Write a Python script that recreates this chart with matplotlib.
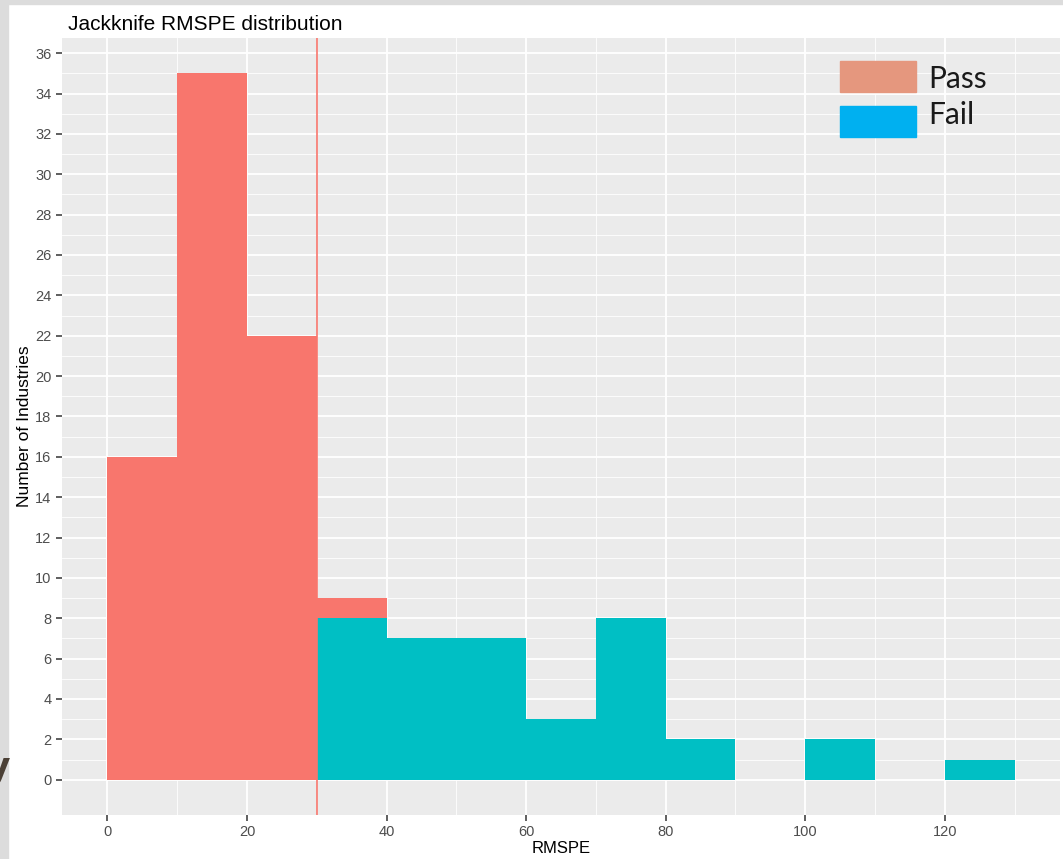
import matplotlib
matplotlib.use("Agg")
import matplotlib.pyplot as plt
from matplotlib.patches import Rectangle
import numpy as np

# Data
bin_edges = [0, 10, 20, 30, 40, 50, 60, 70, 80, 90, 100, 110, 120, 130]
fail_counts = [0, 0, 0, 8, 7, 7, 3, 8, 2, 0, 2, 0, 1]
pass_counts = [16, 35, 22, 1, 0, 0, 0, 0, 0, 0, 0, 0, 0]
threshold = 30
x_ticks = [0, 20, 40, 60, 80, 100, 120]
y_ticks = list(range(0, 37, 2))
legend_labels = ["Pass", "Fail"]

PASS_C = "#F8766D"
FAIL_C = "#00BFC4"

fig = plt.figure(figsize=(10.63, 8.59), dpi=100, facecolor="white")
W, H = 1063, 859

# slide border strips
fig.patches.append(Rectangle((0, 0), 8 / W, 1, transform=fig.transFigure, color="#dcdcdc", zorder=0))
fig.patches.append(Rectangle((0, 1 - 4 / H), 1, 4 / H, transform=fig.transFigure, color="#dcdcdc", zorder=0))

ax = fig.add_axes([62 / W, 1 - 815 / H, (1060 - 62) / W, (815 - 38) / H])
ax.set_facecolor("#EBEBEB")

left = np.array(bin_edges[:-1])
widths = np.diff(bin_edges)
fail = np.array(fail_counts)
pas = np.array(pass_counts)
ax.bar(left, fail, width=widths, align="edge", color=FAIL_C, zorder=3, linewidth=0)
ax.bar(left, pas, width=widths, bottom=fail, align="edge", color=PASS_C, zorder=3, linewidth=0)
ax.axvline(threshold, color=PASS_C, lw=1.2, zorder=4)

ax.set_xlim(-6.5, 136.5)
ax.set_ylim(-1.75, 36.75)
ax.set_xticks(x_ticks)
ax.set_yticks(y_ticks)
ax.set_xticks(np.arange(10, 131, 20), minor=True)
ax.set_yticks(np.arange(1, 37, 2), minor=True)
ax.grid(which="major", color="white", lw=1.3, zorder=1)
ax.grid(which="minor", color="white", lw=0.6, zorder=1)
ax.tick_params(which="minor", length=0)
ax.tick_params(which="major", length=4.5, width=1.1, color="#333333",
               labelcolor="#4D4D4D", labelsize=10.5, pad=3)
for s in ax.spines.values():
    s.set_visible(False)
for lab in ax.get_xticklabels() + ax.get_yticklabels():
    lab.set_family("Liberation Sans")

ax.set_xlabel("RMSPE", fontsize=12, family="Liberation Sans", color="black", labelpad=1)
ax.set_ylabel("Number of Industries", fontsize=12.5, family="Liberation Sans", color="black", labelpad=2)

fig.text(68 / W, 1 - 30 / H, "Jackknife RMSPE distribution", fontsize=15,
         family="Liberation Sans", color="black", va="baseline", ha="left")

# custom legend
leg_colors = ["#E5977E", "#00B0F0"]
tops = [61, 106]
baselines = [88, 124]
for lab, c, t, b in zip(legend_labels, leg_colors, tops, baselines):
    fig.patches.append(Rectangle((840 / W, 1 - (t + 31) / H), 76 / W, 31 / H,
                                 transform=fig.transFigure, color=c, zorder=5))
    fig.text(928 / W, 1 - b / H, lab, fontsize=21.5, family="Lato", fontweight="normal",
             color="#1a1a1a", va="baseline", ha="left", zorder=6)

# partial stray glyph at left edge
fig.text(-13 / W, 1 - 778 / H, "y", fontsize=26, color="#4a3f35", va="baseline",
         ha="left", fontweight="bold")

fig.savefig("out.png", dpi=100, facecolor="white")
